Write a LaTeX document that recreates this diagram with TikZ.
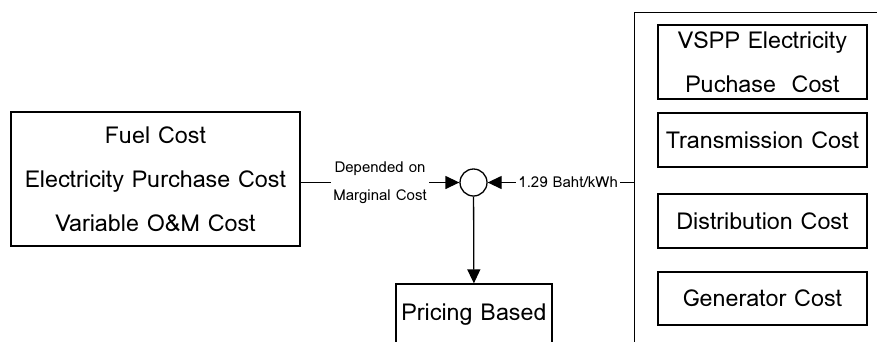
\documentclass[tikz,border=0pt]{standalone}
\usepackage{fontspec}
\setmainfont{Loma}
\usetikzlibrary{arrows.meta}
\begin{document}
\begin{tikzpicture}[x=1pt,y=-1pt]
	\tikzset{costbox/.style = {draw, line width=1.3pt, inner sep=0pt, align=center, font=\fontsize{23.3}{44}\selectfont},
		flow/.style = {line width=1.3pt, -{Triangle[length=14pt,width=13pt]}},
		tag/.style = {fill=white, inner sep=2pt, align=center, font=\fontsize{15}{28}\selectfont}}

	\useasboundingbox (0,0) rectangle (877,341);
	\clip (0,0) rectangle (877,341);

	\node[costbox, minimum width=289pt, minimum height=134pt] (F) at (155.5,179) {Fuel Cost\\Electricity Purchase Cost\\Variable O\&M Cost};
	\node[draw, circle, minimum size=27pt, inner sep=0pt, line width=1.3pt] (S) at (473.5,182.5) {};
	\node[costbox, minimum width=156pt, minimum height=62pt] (P) at (474,315) {Pricing Based};

	\node[draw, line width=1.3pt, minimum width=300pt, minimum height=400pt, anchor=north west] (C) at (634,12) {};
	\node[costbox, minimum width=209pt, minimum height=74pt] (C_1) at (762.5,62) {VSPP Electricity\\Puchase~ Cost};
	\node[costbox, minimum width=209pt, minimum height=54pt] (C_2) at (762.5,140) {Transmission Cost};
	\node[costbox, minimum width=209pt, minimum height=54pt] (C_3) at (762.5,221) {Distribution Cost};
	\node[costbox, minimum width=209pt, minimum height=53pt] (C_4) at (762.5,298.5) {Generator Cost};

	\draw[flow] (F.east |- S) -- node[tag] {Depended on\\Marginal Cost} (S.west);
	\draw[flow] (C.west |- S) -- node[tag, pos=0.45] {1.29 Baht/kWh} (S.east);
	\draw[flow] (S) -- (P);

\end{tikzpicture}
\end{document}
